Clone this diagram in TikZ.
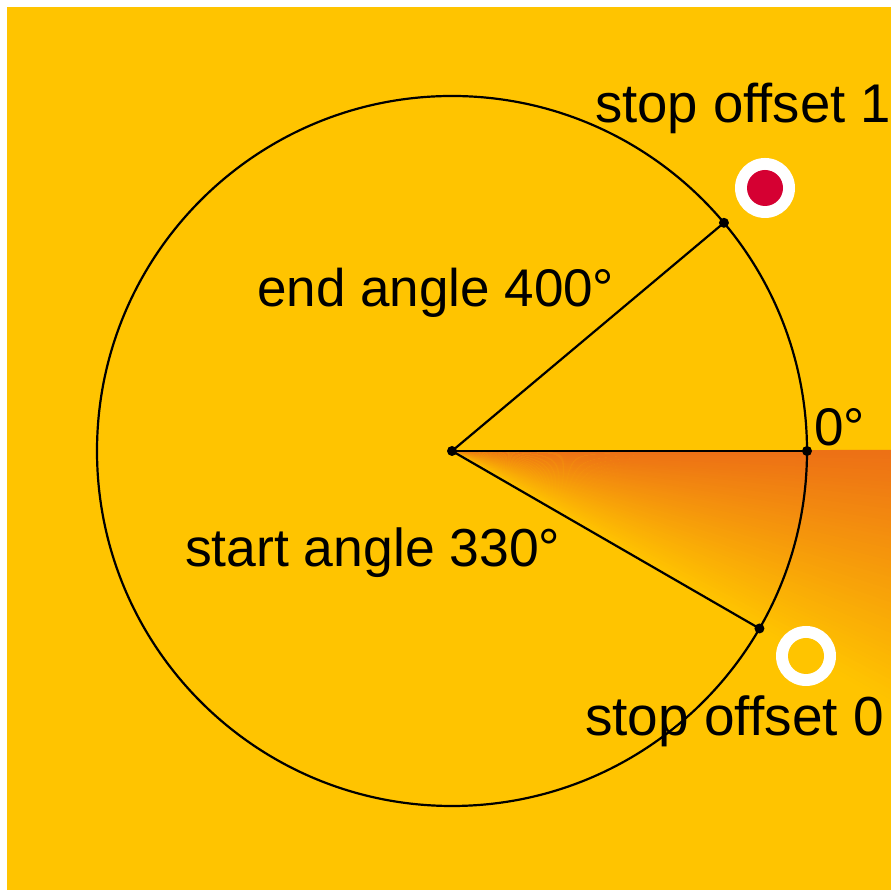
\documentclass[tikz,border=0pt]{standalone}
\usepackage{fontspec}
\setmainfont{Liberation Sans}
\usepackage{xcolor}
\usepackage{tikz}
\usetikzlibrary{positioning,calc}
\definecolor{ambbg}{RGB}{255,196,0}
\definecolor{stopred}{RGB}{213,0,50}

\begin{document}
\begin{tikzpicture}[x=1pt,y=1pt,line width=2.2pt,
  dot/.style={circle,fill=black,inner sep=0pt,minimum size=10pt},
  lbl/.style={anchor=base west,inner sep=0pt,font=\fontsize{53}{60}\selectfont}]
  \useasboundingbox (0,0) rectangle (891,890);
  \fill[white] (0,0) rectangle (891,890);
  \fill[ambbg] (7,0) rectangle (891,883);
  \def\r{355}
  \coordinate (c) at (452,439);
  % sweep from 330 (stop 0) towards 400 (stop 1), clamped at 360
  \begin{scope}
    \clip (7,0) rectangle (891,883);
    \foreach \i in {0,...,59}{
      \pgfmathsetmacro\aa{-30+\i*0.5}
      \pgfmathsetmacro\ab{-30+(\i+1)*0.5+0.15}
      \pgfmathsetmacro\p{(\i+0.5)/60*30/70*100}
      \fill[stopred!\p!ambbg] (c) -- ++(\aa:700) -- ++($(\ab:700)-(\aa:700)$) -- cycle;
    }
  \end{scope}
  \draw (c) circle (\r);
  \node[dot] (ctr) at (c) {};
  \node[dot] (zero) at ($(c)+(0:\r)$) {};
  \node[dot] (endpt) at ($(c)+(40:\r)$) {};
  \node[dot] (startpt) at ($(c)+(-30:\r)$) {};
  \draw (ctr.center) -- (zero.center);
  \draw (ctr.center) -- (endpt.center);
  \draw (ctr.center) -- (startpt.center);
  % stop markers
  \node[circle,fill=white,minimum size=60pt,inner sep=0pt] (stop1) at (765,702) {};
  \node[circle,fill=stopred,minimum size=36pt,inner sep=0pt] at (stop1) {};
  \node[circle,fill=white,minimum size=60pt,inner sep=0pt] (stop0) at (806,234) {};
  \node[circle,fill=ambbg,minimum size=36pt,inner sep=0pt] at (stop0) {};
  \node[lbl,font=\fontsize{54.5}{60}\selectfont] (t1) at (594,767) {stop offset 1};
  \node[lbl] (tend) at (256,583) {end angle 400°};
  \node[lbl,font=\fontsize{53.5}{60}\selectfont] (tstart) at (184,323) {start angle 330°};
  \node[lbl,font=\fontsize{55}{60}\selectfont] (t0) at (584,154) {stop offset 0};
  \node[lbl] (tzero) at (813,444) {0°};
\end{tikzpicture}
\end{document}
